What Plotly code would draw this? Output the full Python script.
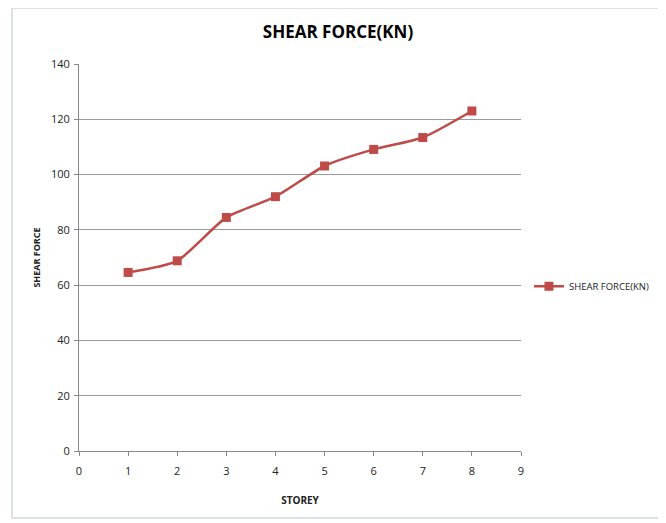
import plotly.graph_objects as go

storey = [1, 2, 3, 4, 5, 6, 7, 8]
shear_force = [64.6, 68.8, 84.5, 92.0, 103.1, 109.1, 113.4, 123.0]
series_name = "SHEAR FORCE(KN)"

FONT = "Open Sans, Arial"
color = "#BE4B48"

fig = go.Figure()
fig.add_trace(go.Scatter(
    x=storey, y=shear_force, name=series_name, mode="lines+markers",
    line=dict(color=color, width=2.5, shape="spline", smoothing=0.6),
    marker=dict(symbol="square", size=9, color=color),
))

fig.update_layout(
    width=658, height=515,
    paper_bgcolor="white", plot_bgcolor="white",
    margin=dict(l=71, r=145, t=56, b=72, autoexpand=False),
    title=dict(text="<b>SHEAR FORCE(KN)</b>", x=0.5015, xanchor="center", y=0.953, yanchor="middle",
               font=dict(family=FONT, size=17, color="black")),
    showlegend=True,
    legend=dict(x=1.018, y=0.426, xanchor="left", yanchor="middle",
                font=dict(family=FONT, size=9.5, color="#222"),
                bgcolor="rgba(0,0,0,0)", itemwidth=30),
    xaxis=dict(range=[0, 9], dtick=1, tick0=0, showgrid=False, zeroline=False, automargin=False,
               showline=True, linecolor="#888", linewidth=1,
               ticks="outside", ticklen=4, tickcolor="#888", ticklabelstandoff=6,
               tickfont=dict(family=FONT, size=11, color="#222"),
               title=dict(text="<b>STOREY</b>", font=dict(family=FONT, size=10, color="#222"), standoff=19)),
    yaxis=dict(range=[0, 140], dtick=20, showgrid=True, gridcolor="#9a9a9a", gridwidth=1,
               zeroline=False, showline=True, linecolor="#888", linewidth=1, automargin=False,
               ticks="outside", ticklen=4, tickcolor="#888", ticklabelstandoff=2,
               tickfont=dict(family=FONT, size=11, color="#222"),
               title=dict(text="<b>SHEAR FORCE</b>", font=dict(family=FONT, size=9, color="#222"), standoff=8)),
    shapes=[dict(type="rect", xref="paper", yref="paper",
                 x0=-0.1516, x1=1.3145, y0=-0.173, y1=1.1447,
                 line=dict(color="#d0d8dc", width=1.5), fillcolor="rgba(0,0,0,0)", layer="below")],
)

fig.write_html("out.html")
